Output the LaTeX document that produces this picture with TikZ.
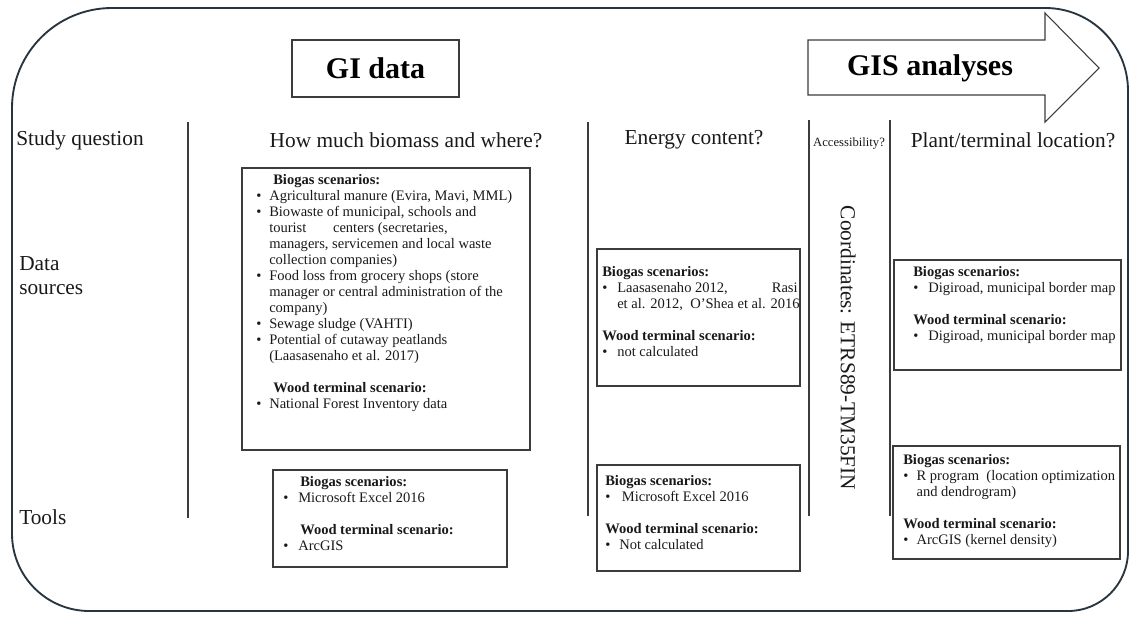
\documentclass[tikz,border=0pt]{standalone}
\usepackage{fontspec}
\setmainfont{Liberation Serif}
\definecolor{frame}{RGB}{40,52,62}
\definecolor{ink}{RGB}{25,25,25}
\definecolor{rule}{RGB}{60,60,60}
\newcommand\bl[1][11.25pt]{\makebox[#1][l]{\textbullet}}
\newcommand\ct[1][11.25pt]{\hspace*{#1}}
\begin{document}
\begin{tikzpicture}[x=0.75pt,y=-0.75pt,
  frameline/.style={draw=frame,line width=1.4pt},
  boxline/.style={draw=rule,line width=0.8pt},
  sepline/.style={draw=rule,line width=0.8pt},
  hdr/.style={font=\fontsize{16}{18}\selectfont,text=ink,inner sep=0pt},
  bigtitle/.style={font=\fontsize{22.5}{26}\selectfont\bfseries,text=black,inner sep=0pt},
  boxtext/.style={font=\fontsize{10.9}{12}\selectfont,text=ink,align=left,inner sep=0pt,anchor=north west},
  smalltext/.style={font=\fontsize{9.5}{11}\selectfont,text=ink,inner sep=0pt}]
\useasboundingbox (0,0) rectangle (1129,619);
% outer frame
\draw[frameline] (12,300) [rounded corners=75pt] |- (570,8)
  [rounded corners=62pt] -| (1128,300)
  [rounded corners=45pt] |- (570,611)
  [rounded corners=58pt] -| (12,300);
% header box and arrow
\draw[boxline] (292,40) rectangle (459,97);
\node[bigtitle] (gidata) at (375.5,68.5) {GI data};
\draw[boxline] (808,40) -- (1045,40) -- (1045,13) -- (1099,68) -- (1045,122) -- (1045,95) -- (808,95) -- cycle;
\node[bigtitle] (gis) at (930,68) {GIS analyses};
% separators
\draw[sepline] (188,122) -- (188,518);
\draw[sepline] (588,122) -- (588,516);
\draw[sepline] (809,120) -- (809,516);
\draw[sepline] (890,120) -- (890,516);
% row labels
\node[hdr,anchor=west] (sq) at (16,140) {Study question};
\node[hdr,anchor=west,align=left] (ds) at (19,276) {Data\\sources};
\node[hdr,anchor=west] (tools) at (19,517) {Tools};
% column headers
\node[hdr] (q1) at (406,140) {How much biomass and where?};
\node[hdr] (q2) at (694,140) {Energy content?};
\node[smalltext] (q3) at (849,143) {Accessibility?};
\node[hdr] (q4) at (1013,140) {Plant/terminal location?};
\node[hdr,rotate=-90] (coord) at (848,348) {Coordinates: ETRS89-TM35FIN};
% data source boxes
\draw[boxline] (242,168) rectangle (530,450);
\node[boxtext] (dsA) at (256,174) {%
\hspace*{12.75pt}\textbf{Biogas scenarios:}\\
\bl[9.75pt]Agricultural manure (Evira, Mavi, MML)\\
\bl[9.75pt]Biowaste of municipal, schools and\\
\ct[9.75pt]tourist\hspace{20pt}centers (secretaries,\\
\ct[9.75pt]managers, servicemen and local waste\\
\ct[9.75pt]collection companies)\\
\bl[9.75pt]Food loss from grocery shops (store\\
\ct[9.75pt]manager or central administration of the\\
\ct[9.75pt]company)\\
\bl[9.75pt]Sewage sludge (VAHTI)\\
\bl[9.75pt]Potential of cutaway peatlands\\
\ct[9.75pt](Laasasenaho et al. 2017)\\[12pt]
\hspace*{12.75pt}\textbf{Wood terminal scenario:}\\
\bl[9.75pt]National Forest Inventory data};
\draw[boxline] (597,249) rectangle (800,386);
\node[boxtext] (dsB) at (602,266) {%
\textbf{Biogas scenarios:}\\
\bl Laasasenaho 2012,\hspace{33pt}Rasi\\
\ct et al. 2012,\ \ O'Shea et al. 2016\\[12pt]
\textbf{Wood terminal scenario:}\\
\bl not calculated};
\draw[boxline] (894,260) rectangle (1121,370);
\node[boxtext] (dsC) at (913,266) {%
\textbf{Biogas scenarios:}\\
\bl Digiroad, municipal border map\\[12pt]
\textbf{Wood terminal scenario:}\\
\bl Digiroad, municipal border map};
% tools boxes
\draw[boxline] (273,470) rectangle (507,567);
\node[boxtext] (tA) at (283,476) {%
\hspace*{12.75pt}\textbf{Biogas scenarios:}\\
\bl Microsoft Excel 2016\\[12pt]
\hspace*{12.75pt}\textbf{Wood terminal scenario:}\\
\bl ArcGIS};
\draw[boxline] (597,465) rectangle (800,571);
\node[boxtext] (tB) at (605,475) {%
\textbf{Biogas scenarios:}\\
\bl[12.5pt]Microsoft Excel 2016\\[12pt]
\textbf{Wood terminal scenario:}\\
\bl[10.5pt]Not calculated};
\draw[boxline] (893,446) rectangle (1120,559);
\node[boxtext] (tC) at (903,454) {%
\textbf{Biogas scenarios:}\\
\bl[10pt]R program\ \ (location optimization\\
\ct[10pt]and dendrogram)\\[12pt]
\textbf{Wood terminal scenario:}\\
\bl[10pt]ArcGIS (kernel density)};
\end{tikzpicture}
\end{document}
